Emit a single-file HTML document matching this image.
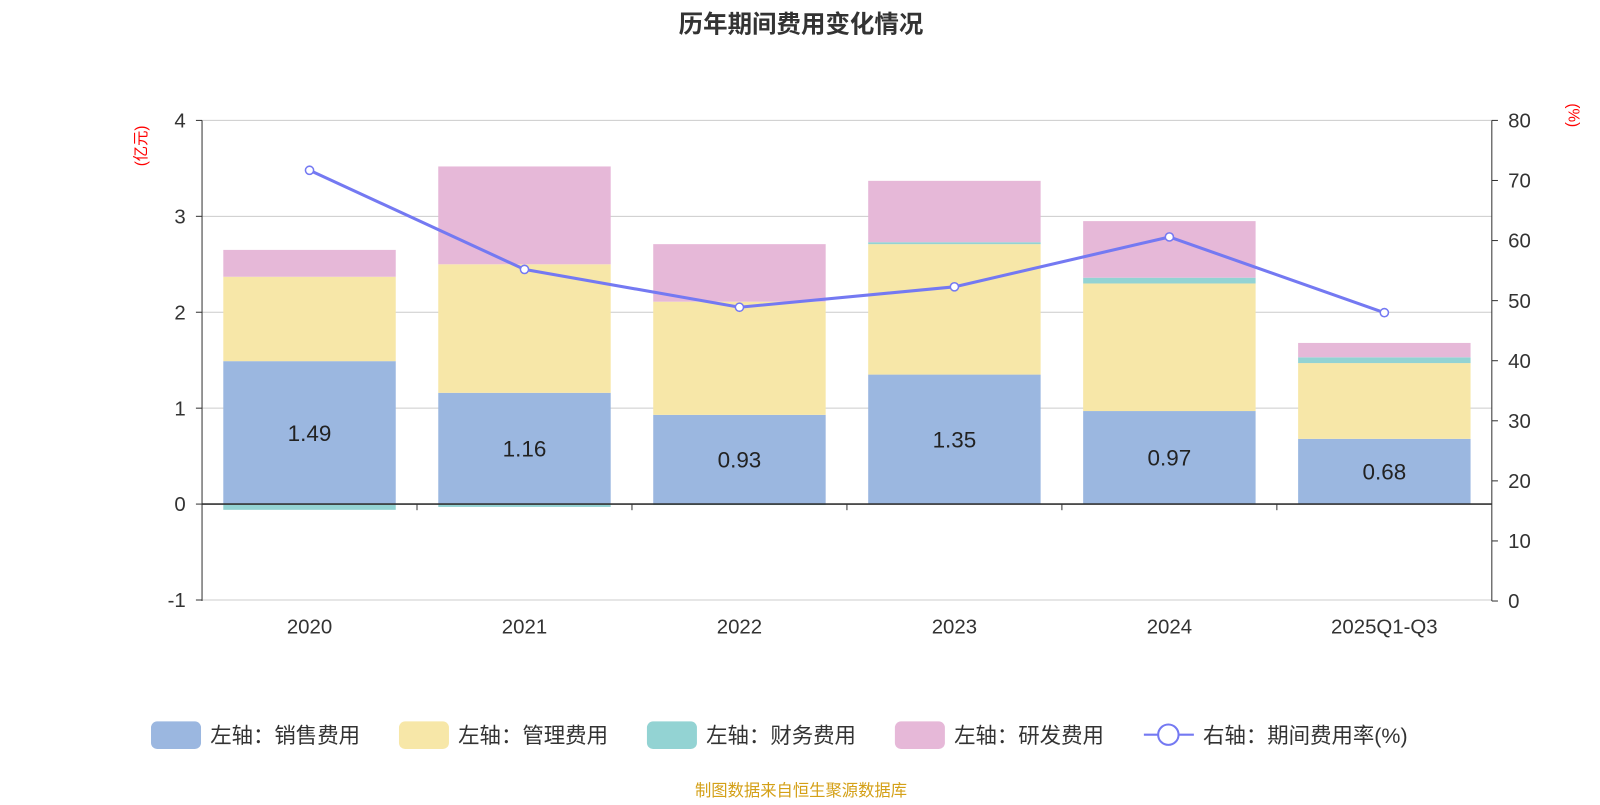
<!DOCTYPE html>
<html><head><meta charset="utf-8"><style>
body{margin:0;background:#fff;width:1600px;height:800px;overflow:hidden;font-family:"Liberation Sans","Noto Sans CJK SC",sans-serif;}
</style></head><body>
<svg width="1600" height="800" xmlns="http://www.w3.org/2000/svg"><g id="c" transform="scale(1.0204)"></g></svg>
<script>
const categories=["2020","2021","2022","2023","2024","2025Q1-Q3"];
const sales=[1.49,1.16,0.93,1.35,0.97,0.68];
const mgmt=[0.88,1.34,1.18,1.36,1.33,0.79];
const finance=[-0.06,-0.03,-0.01,0.02,0.06,0.06];
const rd=[0.28,1.02,0.60,0.64,0.59,0.15];
const rate=[71.7,55.2,48.9,52.3,60.6,48.0];
const leftTicks=[-1,0,1,2,3,4];
const rightTicks=[0,10,20,30,40,50,60,70,80];

const NS="http://www.w3.org/2000/svg";
const svg=document.getElementById('c');
const X0=198,X1=1462,YT=118,YB=589;
const yL=v=>494-(v)*(494-YT)/4;
const yR=v=>YB-v*(YB-YT)/80;
const band=(X1-X0)/categories.length;
const xC=i=>X0+band*(i+0.5);
const BW=169;
function mk(t,a,txt){const e=document.createElementNS(NS,t);for(const k in a)e.setAttribute(k,a[k]);if(txt!==undefined)e.textContent=txt;svg.appendChild(e);return e;}

let e=mk('text',{x:785,y:32,'text-anchor':'middle','font-size':24,'font-weight':'bold',fill:'#333'},'历年期间费用变化情况');


leftTicks.forEach(t=>{
  if(t!==0){e=mk('line',{x1:X0,x2:X1,y1:yL(t),y2:yL(t),stroke:'#ccc','stroke-width':1});
  }
  e=mk('text',{x:182,y:yL(t)+7,'text-anchor':'end','font-size':20,fill:'#333'},String(t));
  
  mk('line',{x1:X0-6,x2:X0,y1:yL(t),y2:yL(t),stroke:'#333'});
});
rightTicks.forEach(t=>{
  e=mk('text',{x:1478,y:yR(t)+7,'font-size':20,fill:'#333'},String(t));
  
  mk('line',{x1:X1,x2:X1+6,y1:yR(t),y2:yR(t),stroke:'#333'});
});
mk('line',{x1:X0,x2:X0,y1:YT,y2:YB,stroke:'#333'});
mk('line',{x1:X1,x2:X1,y1:YT,y2:YB,stroke:'#333'});
e=mk('text',{transform:'translate(143,143) rotate(-90)','text-anchor':'middle','font-size':15,fill:'red'},'(亿元)');

e=mk('text',{transform:'translate(1537,113) rotate(90)','text-anchor':'middle','font-size':15,fill:'red'},'(%)');


const series=[[sales,'#9bb7e0','sales'],[mgmt,'#f7e7a8','mgmt'],[finance,'#93d3d3','finance'],[rd,'#e6b8d8','rd']];
categories.forEach((c,i)=>{
  let pos=0,neg=0;
  series.forEach(([arr,col,nm])=>{
    const v=arr[i];let a,b;
    if(v>=0){a=pos;b=pos+v;pos=b;}else{a=neg;b=neg+v;neg=b;}
    const y1=yL(Math.max(a,b)),y2=yL(Math.min(a,b));
    e=mk('rect',{x:xC(i)-BW/2,y:y1,width:BW,height:Math.max(y2-y1,0.5),fill:col});
    
  });
  e=mk('text',{x:xC(i),y:yL(sales[i]/2)+8,'text-anchor':'middle','font-size':22,fill:'#222'},sales[i].toFixed(2));
  
  e=mk('text',{x:xC(i),y:621,'text-anchor':'middle','font-size':20,fill:'#333'},c);
  
});
mk('line',{x1:X0,x2:X1,y1:yL(0),y2:yL(0),stroke:'#333','stroke-width':1.5});
for(let i=1;i<categories.length;i++){mk('line',{x1:X0+band*i,x2:X0+band*i,y1:494,y2:500,stroke:'#333'});}

e=mk('polyline',{points:rate.map((v,i)=>xC(i)+','+yR(v)).join(' '),fill:'none',stroke:'#7479f2','stroke-width':3});

rate.forEach((v,i)=>{e=mk('circle',{cx:xC(i),cy:yR(v),r:4,fill:'#fff',stroke:'#7479f2','stroke-width':1.5});
});

const leg=[['左轴：销售费用','#9bb7e0',148],['左轴：管理费用','#f7e7a8',391],['左轴：财务费用','#93d3d3',634],['左轴：研发费用','#e6b8d8',877]];
leg.forEach(([t,col,x])=>{
  e=mk('rect',{x:x,y:707,width:49,height:27,rx:6,fill:col});
  
  e=mk('text',{x:x+58,y:728,'font-size':21,fill:'#333'},t);
  
});
mk('line',{x1:1121,x2:1170,y1:720,y2:720,stroke:'#7479f2','stroke-width':2});
e=mk('circle',{cx:1145,cy:720,r:10,fill:'#fff',stroke:'#7479f2','stroke-width':2});

e=mk('text',{x:1179,y:728,'font-size':21,fill:'#333'},'右轴：期间费用率(%)');

e=mk('text',{x:785,y:780,'text-anchor':'middle','font-size':16,fill:'#d4a017'},'制图数据来自恒生聚源数据库');

</script>
</body></html>
